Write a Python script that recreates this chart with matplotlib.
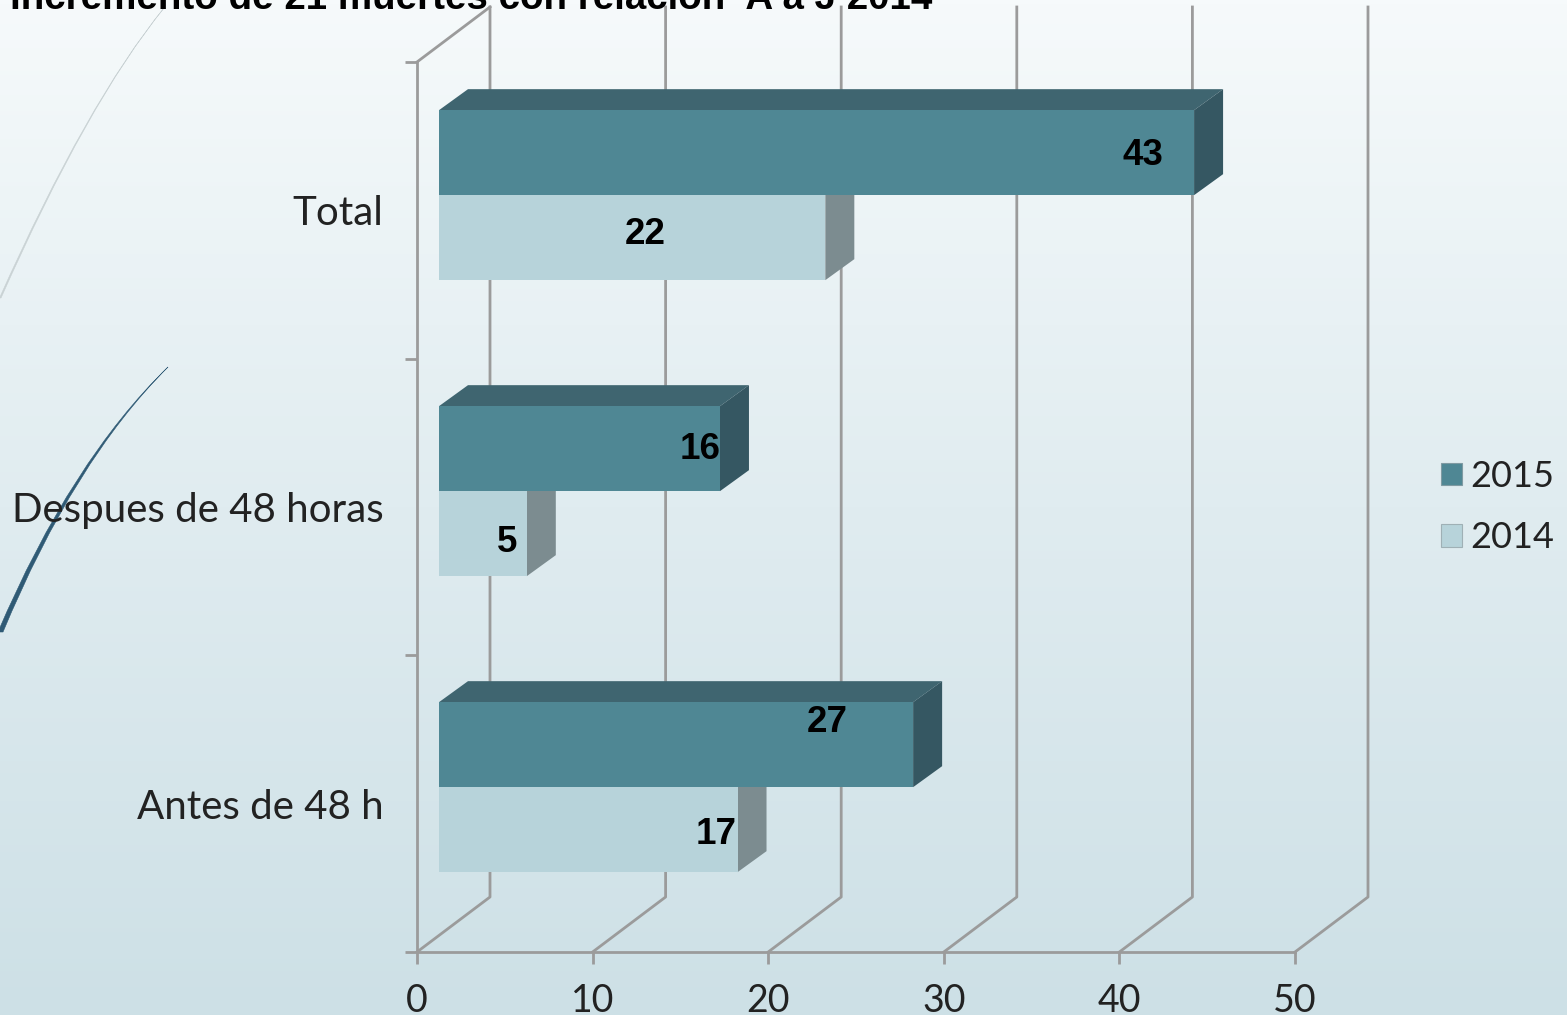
#!/usr/bin/env python3
# -*- coding: utf-8 -*-
import numpy as np
import matplotlib
matplotlib.use('Agg')
import matplotlib.pyplot as plt
from matplotlib.colors import LinearSegmentedColormap
from matplotlib.patches import PathPatch, Patch, Polygon
from matplotlib.path import Path

categorias = ['Antes de 48 h', 'Despues de 48 horas', 'Total']
val_2015 = [27, 16, 43]
val_2014 = [17, 5, 22]
xticks = [0, 10, 20, 30, 40, 50]
titulo = 'Incremento de 21 muertes con relación  A a J 2014'

# desplazamiento de cada etiqueta respecto al final de la barra (px)
off_2015 = [(-86, 22), (-20, -1), (-51, -3)]
off_2014 = [(-21, -5), (-20, -9), (-180, 3)]

W, H = 1567, 1015
FONT = 'Lato'
C15, C15_TOP, C15_SIDE = '#4f8794', '#3f6570', '#355762'
C14, C14_TOP, C14_SIDE = '#b7d3da', '#8fa3a8', '#7c8c90'
GRID = '#9b9b9b'

fig = plt.figure(figsize=(W / 100, H / 100), dpi=100)

# fondo
bg = fig.add_axes([0, 0, 1, 1])
grad = LinearSegmentedColormap.from_list('fondo', ['#f6fafb', '#e0ecf0', '#cde0e6'])
bg.imshow(np.linspace(0, 1, 256).reshape(-1, 1), aspect='auto', cmap=grad,
          extent=[0, W, H, 0])
bg.set_xlim(0, W)
bg.set_ylim(H, 0)
bg.axis('off')


def curva(p0, c, p1, ancho, color):
    # curva afilada hacia p1
    verts = [p0, c, p1, (c[0] - ancho * 0.6, c[1]), (p0[0] - ancho, p0[1]), p0]
    codes = [Path.MOVETO, Path.CURVE3, Path.CURVE3, Path.CURVE3, Path.CURVE3, Path.CLOSEPOLY]
    bg.add_patch(PathPatch(Path(verts, codes), fc=color, ec=color, lw=0.4))


curva((3, 632), (74, 461), (168, 367), 5, '#2f5a75')
curva((1, 298), (88, 102), (164, 8), 1.5, '#c9d2d4')

fig.text(10 / W, 1 - 9 / H, titulo, fontsize=27.7, fontweight='bold',
         family='Liberation Sans', color='black', va='baseline', ha='left')

ax = fig.add_axes([417 / W, 1 - 952 / H, 878 / W, 890 / H])
ax.patch.set_alpha(0)
ax.set_xlim(0, 50)
ax.set_ylim(0, 3)
kx = 878 / 50
ky = 890 / 3

# fondo 3d: suelo y pared
fx, fy = 73 / kx, 55 / ky
for v in xticks:
    ax.plot([v, v + fx, v + fx], [0, fy, 3 + fy], color=GRID, lw=2, clip_on=False, zorder=1)
ax.plot([0, fx], [3, 3 + fy], color=GRID, lw=2, clip_on=False, zorder=1)

# barras
x0, y0 = 22 / kx, 16.5 / ky
dx, dy = 29 / kx, 21 / ky
alto = 85 / ky
paso = 296 / ky
pos = np.arange(len(categorias)) + 0.5


def barra(yb, v, c, top, side, z):
    ax.add_patch(Polygon([(x0, yb + alto), (x0 + dx, yb + alto + dy),
                          (x0 + v + dx, yb + alto + dy), (x0 + v, yb + alto)],
                         fc=top, ec='none', clip_on=False, zorder=z))
    ax.add_patch(Polygon([(x0 + v, yb), (x0 + v + dx, yb + dy),
                          (x0 + v + dx, yb + alto + dy), (x0 + v, yb + alto)],
                         fc=side, ec='none', clip_on=False, zorder=z))
    ax.barh(yb, v, height=alto, left=x0, align='edge', color=c, zorder=z + 0.1, clip_on=False)


for i in range(len(categorias)):
    base = pos[0] + y0 + i * paso
    barra(base - alto, val_2014[i], C14, C14_TOP, C14_SIDE, 3)
    barra(base, val_2015[i], C15, C15_TOP, C15_SIDE, 4)
    for v, yb, off in ((val_2015[i], base, off_2015[i]), (val_2014[i], base - alto, off_2014[i])):
        ax.annotate(str(v), (x0 + v, yb + alto / 2), xytext=(off[0] * 0.72, off[1] * 0.72),
                    textcoords='offset points', ha='center', va='center', fontsize=26.5,
                    fontweight='bold', family='Liberation Sans', color='black', zorder=6)

# ejes
for s in ['top', 'right']:
    ax.spines[s].set_visible(False)
for s in ['left', 'bottom']:
    ax.spines[s].set_color(GRID)
    ax.spines[s].set_linewidth(2)
ax.set_xticks(xticks)
ax.set_xticklabels([str(v) for v in xticks], fontsize=27, family=FONT, color='#222222')
ax.tick_params(axis='x', length=8.5, width=2, color=GRID, pad=13.5)
ax.set_yticks([0, 1, 2, 3])
ax.set_yticklabels([])
ax.tick_params(axis='y', which='major', length=8.5, width=2, color=GRID)
ax.set_yticks(pos, minor=True)
ax.set_yticklabels(categorias, minor=True, fontsize=29, family=FONT, color='#222222')
ax.tick_params(axis='y', which='minor', length=0, pad=24)

# leyenda
h = [Patch(fc=C15, ec='#7f9aa2', lw=0.8), Patch(fc=C14, ec='#9fb0b5', lw=0.8)]
leg = fig.legend(h, ['2015', '2014'], loc='center left', bbox_to_anchor=(1441 / W, 1 - 507 / H),
                 frameon=False, borderpad=0, borderaxespad=0, handlelength=0.58,
                 handleheight=0.58, handletextpad=0.22, labelspacing=0.79,
                 prop={'family': FONT, 'size': 26})
for t in leg.get_texts():
    t.set_color('#222222')

fig.savefig('out.png', dpi=100)
